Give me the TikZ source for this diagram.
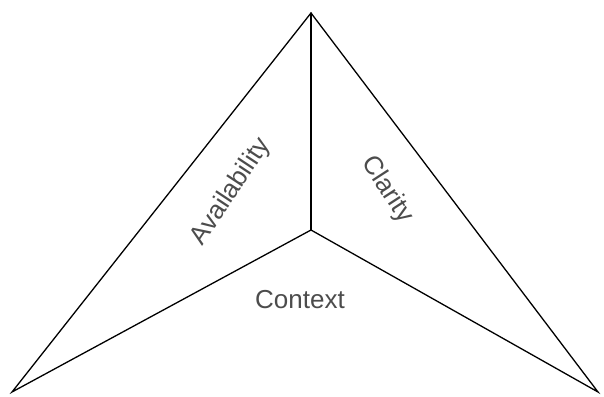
\documentclass[tikz,border=0pt]{standalone}
\usepackage{fontspec}
\setmainfont{Liberation Sans}
\begin{document}
\begin{tikzpicture}[x=1pt,y=-1pt,
  edge/.style={line width=1.3pt,line cap=round},
  lbl/.style={font=\fontsize{26}{29}\selectfont,text=black!70,inner sep=0pt}]
\useasboundingbox (0,0) rectangle (604,396);
\coordinate (top) at (311,13);
\coordinate (mid) at (311,230);
\coordinate (bl) at (12,392);
\coordinate (br) at (598,392);
\draw[edge] (top) -- (bl) -- (mid) -- (br) -- cycle;
\draw[edge] (top) -- (mid);
\node[lbl,rotate=56.5] (avail) at (231,192) {Availability};
\node[lbl,rotate=-57] (clar) at (387,190) {Clarity};
\node[lbl] (ctx) at (300,300) {Context};
\end{tikzpicture}
\end{document}
